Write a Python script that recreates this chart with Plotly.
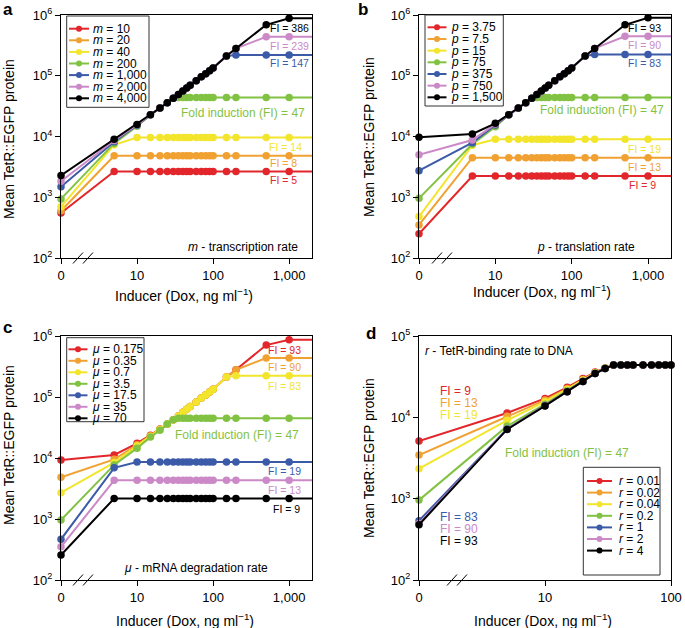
import plotly.graph_objects as go

W, H = 685, 628
FONT = 'Liberation Sans, Arial, sans-serif'

COLORS = ['#E2262B', '#F0A132', '#F3E52B', '#82C243', '#3B5AA8', '#CC89C8', '#000000']

# Dox doses (ng/ml); 0 is drawn at the start of the broken axis
DOSE = [0, 5, 10, 15, 20, 25, 30, 35, 40, 45, 50, 60, 70, 80, 90, 100, 150, 200, 500, 1000, 2000]
DOSE_D = [0, 5, 10, 15, 20, 25, 30, 35, 40, 45, 50, 60, 70, 80, 90, 100]

# --- panel a: transcription rate m
M_LABELS = ['10', '20', '40', '200', '1,000', '2,000', '4,000']
A_M10 = [550, 2660, 2660, 2660, 2660, 2660, 2660, 2660, 2660, 2660, 2660, 2660, 2660, 2660, 2660, 2660, 2660, 2660, 2660, 2660, 2660]
A_M20 = [600, 4800, 4800, 4800, 4800, 4800, 4800, 4800, 4800, 4800, 4800, 4800, 4800, 4800, 4800, 4800, 4800, 4800, 4800, 4800, 4800]
A_M40 = [700, 7300, 9600, 9600, 9600, 9600, 9600, 9600, 9600, 9600, 9600, 9600, 9600, 9600, 9600, 9600, 9600, 9600, 9600, 9600, 9600]
A_M200 = [940, 7700, 14800, 22700, 29200, 36000, 42500, 44000, 44000, 44000, 44000, 44000, 44000, 44000, 44000, 44000, 44000, 44000, 44000, 44000, 44000]
A_M1000 = [1490, 8200, 15300, 22800, 29500, 36000, 42500, 49000, 56000, 63000, 70000, 83000, 96000, 108000, 121000, 134000, 212000, 219000, 219000, 219000, 219000]
A_M2000 = [1830, 8600, 15600, 22800, 29500, 36000, 42500, 49000, 56000, 63000, 70000, 83000, 96000, 108000, 121000, 134000, 212000, 282000, 437000, 437000, 437000]
A_M4000 = [2280, 9000, 15800, 22800, 29500, 36000, 42500, 49000, 56000, 63000, 70000, 83000, 96000, 108000, 121000, 134000, 212000, 282000, 690000, 880000, 880000]

# --- panel b: translation rate p
P_LABELS = ['3.75', '7.5', '15', '75', '375', '750', '1,500']
B_P3 = [250, 2240, 2240, 2240, 2240, 2240, 2240, 2240, 2240, 2240, 2240, 2240, 2240, 2240, 2240, 2240, 2240, 2240, 2240, 2240, 2240]
B_P7 = [350, 4480, 4480, 4480, 4480, 4480, 4480, 4480, 4480, 4480, 4480, 4480, 4480, 4480, 4480, 4480, 4480, 4480, 4480, 4480, 4480]
B_P15 = [480, 7200, 9000, 9000, 9000, 9000, 9000, 9000, 9000, 9000, 9000, 9000, 9000, 9000, 9000, 9000, 9000, 9000, 9000, 9000, 9000]
B_P75 = [960, 7500, 14500, 22800, 29500, 36000, 42500, 44000, 44000, 44000, 44000, 44000, 44000, 44000, 44000, 44000, 44000, 44000, 44000, 44000, 44000]
B_P375 = [2740, 7900, 15500, 22800, 29500, 36000, 42500, 49000, 56000, 63000, 70000, 83000, 96000, 108000, 121000, 134000, 212000, 224000, 224000, 224000, 224000]
B_P750 = [5000, 8750, 16000, 22800, 29500, 36000, 42500, 49000, 56000, 63000, 70000, 83000, 96000, 108000, 121000, 134000, 212000, 282000, 445000, 445000, 445000]
B_P1500 = [9700, 11000, 16500, 22800, 29500, 36000, 42500, 49000, 56000, 63000, 70000, 83000, 96000, 108000, 121000, 134000, 212000, 282000, 690000, 900000, 900000]

# --- panel c: mRNA degradation rate mu
MU_LABELS = ['0.175', '0.35', '0.7', '3.5', '17.5', '35', '70']
C_MU0175 = [9300, 11200, 17400, 23500, 29800, 36000, 42500, 49000, 56000, 63000, 70000, 83000, 96000, 108000, 121000, 134000, 212000, 280000, 710000, 865000, 865000]
C_MU035 = [4830, 9500, 16500, 23000, 29500, 36000, 42500, 49000, 56000, 63000, 70000, 83000, 96000, 108000, 121000, 134000, 212000, 280000, 435000, 435000, 435000]
C_MU07 = [2700, 8400, 15800, 22800, 29300, 36000, 42500, 49000, 56000, 63000, 70000, 83000, 96000, 108000, 121000, 134000, 212000, 224000, 224000, 224000, 224000]
C_MU35 = [965, 7700, 14500, 22000, 28500, 36000, 42500, 44800, 44800, 44800, 44800, 44800, 44800, 44800, 44800, 44800, 44800, 44800, 44800, 44800, 44800]
C_MU175 = [465, 6900, 8600, 8600, 8600, 8600, 8600, 8600, 8600, 8600, 8600, 8600, 8600, 8600, 8600, 8600, 8600, 8600, 8600, 8600, 8600]
C_MU35B = [350, 4300, 4300, 4300, 4300, 4300, 4300, 4300, 4300, 4300, 4300, 4300, 4300, 4300, 4300, 4300, 4300, 4300, 4300, 4300, 4300]
C_MU70 = [257, 2170, 2170, 2170, 2170, 2170, 2170, 2170, 2170, 2170, 2170, 2170, 2170, 2170, 2170, 2170, 2170, 2170, 2170, 2170, 2170]

# --- panel d: TetR-binding rate r
R_LABELS = ['0.01', '0.02', '0.04', '0.2', '1', '2', '4']
D_R001 = [5100, 11300, 17100, 23400, 30000, 36000, 40500, 44000, 44000, 44000, 44000, 44000, 44000, 44000, 44000, 44000]
D_R002 = [3440, 10300, 16300, 22600, 29200, 35500, 40300, 44000, 44000, 44000, 44000, 44000, 44000, 44000, 44000, 44000]
D_R004 = [2340, 9200, 15600, 22000, 28600, 35200, 40100, 44000, 44000, 44000, 44000, 44000, 44000, 44000, 44000, 44000]
D_R02 = [960, 7800, 14500, 21300, 27800, 34900, 39900, 44000, 44000, 44000, 44000, 44000, 44000, 44000, 44000, 44000]
D_R1 = [536, 7200, 14000, 20700, 27500, 34700, 39800, 44000, 44000, 44000, 44000, 44000, 44000, 44000, 44000, 44000]
D_R2 = [494, 7150, 13900, 20600, 27500, 34600, 39800, 44000, 44000, 44000, 44000, 44000, 44000, 44000, 44000, 44000]
D_R4 = [478, 7100, 13800, 20600, 27500, 34600, 39800, 44000, 44000, 44000, 44000, 44000, 44000, 44000, 44000, 44000]

X_TICKS = [1, 10, 100, 1000]
X_TICKTEXT = ['0', '10', '100', '1,000']

# plot boxes in pixels (left, top, right, bottom)
BOX = {1: (61, 15, 312, 258), 2: (419, 15, 671, 258), 3: (61, 336, 312, 580), 4: (419, 336, 671, 580)}


def _px(x):
    return x / W


def _py(y):
    return 1 - y / H


def _ax(n):
    return ('x', 'y') if n == 1 else (f'x{n}', f'y{n}')


def _axes(n, xr, xt, xtt, ymax):
    l, t, r, b = BOX[n]
    xa, ya = _ax(n)
    common = dict(type='log', showline=True, linecolor='black', linewidth=1, mirror=True,
                  ticks='outside', ticklen=5, tickcolor='black', showgrid=False, zeroline=False,
                  automargin=False, tickfont=dict(size=13, color='black', family=FONT))
    x = dict(common, domain=[_px(l), _px(r)], range=xr, tickvals=xt, ticktext=xtt, anchor=ya)
    yv = [10 ** k for k in range(2, ymax + 1)]
    y = dict(common, domain=[_py(b), _py(t)], range=[2, ymax], tickvals=yv,
             ticktext=[f'10<sup>{k}</sup>' for k in range(2, ymax + 1)], anchor=xa)
    return x, y


def _traces(fig, n, dose, series):
    xa, ya = _ax(n)
    xs = [d if d > 0 else 1 for d in dose]  # zero sits at the axis break
    for i, ys in enumerate(series):
        fig.add_trace(go.Scatter(
            x=xs, y=ys, mode='lines+markers', xaxis=xa, yaxis=ya,
            line=dict(color=COLORS[i], width=2),
            marker=dict(color=COLORS[i], size=7.5),
            cliponaxis=False, showlegend=False,
        ))


def _legend(shapes, annots, box, lx, tx, y0, step, sym, labels):
    bx0, by0, bx1, by1 = box
    shapes.append(dict(type='rect', xref='paper', yref='paper', x0=_px(bx0), x1=_px(bx1),
                       y0=_py(by1), y1=_py(by0), line=dict(color='#333', width=1)))
    for i, lab in enumerate(labels):
        y = y0 + i * step
        shapes.append(dict(type='line', xref='paper', yref='paper', x0=_px(lx[0]), x1=_px(lx[1]),
                           y0=_py(y), y1=_py(y), line=dict(color=COLORS[i], width=2)))
        cx = (lx[0] + lx[1]) / 2
        shapes.append(dict(type='circle', xref='paper', yref='paper', x0=_px(cx - 3), x1=_px(cx + 3),
                           y0=_py(y + 3), y1=_py(y - 3), fillcolor=COLORS[i], line=dict(width=0)))
        annots.append(dict(x=_px(tx), y=_py(y), xref='paper', yref='paper', xanchor='left',
                           yanchor='middle', showarrow=False, text=f'{sym} = {lab}',
                           font=dict(size=12, color='black', family=FONT)))


def _text(annots, txt, x, y, color='black', size=12, anchor='left', bold=False):
    if bold:
        txt = f'<b>{txt}</b>'
    annots.append(dict(x=_px(x), y=_py(y), xref='paper', yref='paper', xanchor=anchor,
                       yanchor='middle', showarrow=False, text=txt,
                       font=dict(size=size, color=color, family=FONT)))


fig = go.Figure()
_traces(fig, 1, DOSE, [A_M10, A_M20, A_M40, A_M200, A_M1000, A_M2000, A_M4000])
_traces(fig, 2, DOSE, [B_P3, B_P7, B_P15, B_P75, B_P375, B_P750, B_P1500])
_traces(fig, 3, DOSE, [C_MU0175, C_MU035, C_MU07, C_MU35, C_MU175, C_MU35B, C_MU70])
_traces(fig, 4, DOSE_D, [D_R001, D_R002, D_R004, D_R02, D_R1, D_R2, D_R4])

layout = {}
for n in (1, 2, 3):
    x, y = _axes(n, [0, 3.301], X_TICKS, X_TICKTEXT, 6)
    layout['xaxis' if n == 1 else f'xaxis{n}'] = x
    layout['yaxis' if n == 1 else f'yaxis{n}'] = y
x, y = _axes(4, [0, 2], X_TICKS[:3], X_TICKTEXT[:3], 5)
layout['xaxis4'] = x
layout['yaxis4'] = y

shapes, annots = [], []

# axis break marks
for n, offs in {1: (12, 22), 2: (13, 23), 3: (12, 22), 4: (28, 38)}.items():
    l, t, r, b = BOX[n]
    for o in offs:
        shapes.append(dict(type='line', xref='paper', yref='paper', x0=_px(l + o), x1=_px(l + o + 10),
                           y0=_py(b + 5.5), y1=_py(b - 5.5), line=dict(color='black', width=1)))

# legends
_legend(shapes, annots, (66.7, 16, 149, 107.3), (69, 89), 91.5, 28.7, 11.6, '<i>m</i>', M_LABELS)
_legend(shapes, annots, (425, 15, 503.3, 106), (427.5, 446.5), 448.5, 27.3, 11.67, '<i>p</i>', P_LABELS)
_legend(shapes, annots, (66.7, 337.7, 144, 421.7), (68.5, 87.5), 90, 349.3, 11.5, '<i>μ</i>', MU_LABELS)
_legend(shapes, annots, (583.3, 467.3, 660, 575), (587, 612), 617, 481, 11.6, '<i>r</i>', R_LABELS)

# fold-induction labels
C = COLORS
for txt, col, x, y in [('FI = 386', C[6], 311, 28), ('FI = 239', C[5], 311, 46), ('FI = 147', C[4], 311, 63),
                       ('FI = 14', C[2], 304, 147), ('FI = 8', C[1], 299, 163), ('FI = 5', C[0], 299, 180),
                       ('FI = 93', C[6], 663, 28), ('FI = 90', C[5], 663, 45), ('FI = 83', C[4], 663, 63),
                       ('FI = 19', C[2], 663, 149), ('FI = 13', C[1], 663, 167), ('FI = 9', C[0], 658, 185),
                       ('FI = 93', C[0], 303, 350), ('FI = 90', C[1], 303, 367), ('FI = 83', C[2], 303, 386),
                       ('FI = 19', C[4], 303, 471), ('FI = 13', C[5], 303, 490), ('FI = 9', C[6], 302, 509)]:
    _text(annots, txt, x, y, col, size=10.5, anchor='right')
for txt, col, y in [('FI = 9', C[0], 391), ('FI = 13', C[1], 403), ('FI = 19', C[2], 415),
                    ('FI = 83', C[4], 517), ('FI = 90', C[5], 529), ('FI = 93', C[6], 541)]:
    _text(annots, txt, 438, y, col, size=12)

fold = 'Fold induction (FI) = 47'
_text(annots, fold, 243, 113, C[3], anchor='center')
_text(annots, fold, 602, 110, C[3], anchor='center')
_text(annots, fold, 237, 435, C[3], anchor='center')
_text(annots, fold, 503, 453, C[3])

_text(annots, '<i>m</i> - transcription rate', 300, 247, anchor='right')
_text(annots, '<i>p</i> - translation rate', 637, 247, anchor='right')
_text(annots, '<i>μ</i> - mRNA degradation rate', 196, 568, anchor='center')
_text(annots, '<i>r</i> - TetR-binding rate to DNA', 423, 351)

# axis titles
xtitle = 'Inducer (Dox, ng ml<sup>−1</sup>)'
for x, y in [(184, 295), (542, 291), (185, 620), (543, 620)]:
    _text(annots, xtitle, x, y, size=14, anchor='center')
for x, y in [(9, 139), (369, 137), (9, 445), (369, 458)]:
    annots.append(dict(x=_px(x), y=_py(y), xref='paper', yref='paper', xanchor='center', yanchor='middle',
                       showarrow=False, text='Mean TetR::EGFP protein', textangle=-90,
                       font=dict(size=14, color='black', family=FONT)))

# panel letters
for txt, x, y in [('a', 8, 10), ('b', 363, 10), ('c', 7, 327), ('d', 371, 333)]:
    _text(annots, txt, x, y, size=17, anchor='center', bold=True)

fig.update_layout(
    width=W, height=H,
    margin=dict(l=0, r=0, t=0, b=0),
    paper_bgcolor='white', plot_bgcolor='white',
    font=dict(family=FONT, color='black'),
    shapes=shapes, annotations=annots,
    showlegend=False,
    **layout,
)
# page body has a default 8px margin; drop it so the figure fills the window
fig.write_html("out.html", config={'displayModeBar': False},
               post_script="document.body.style.margin = '0px';")
